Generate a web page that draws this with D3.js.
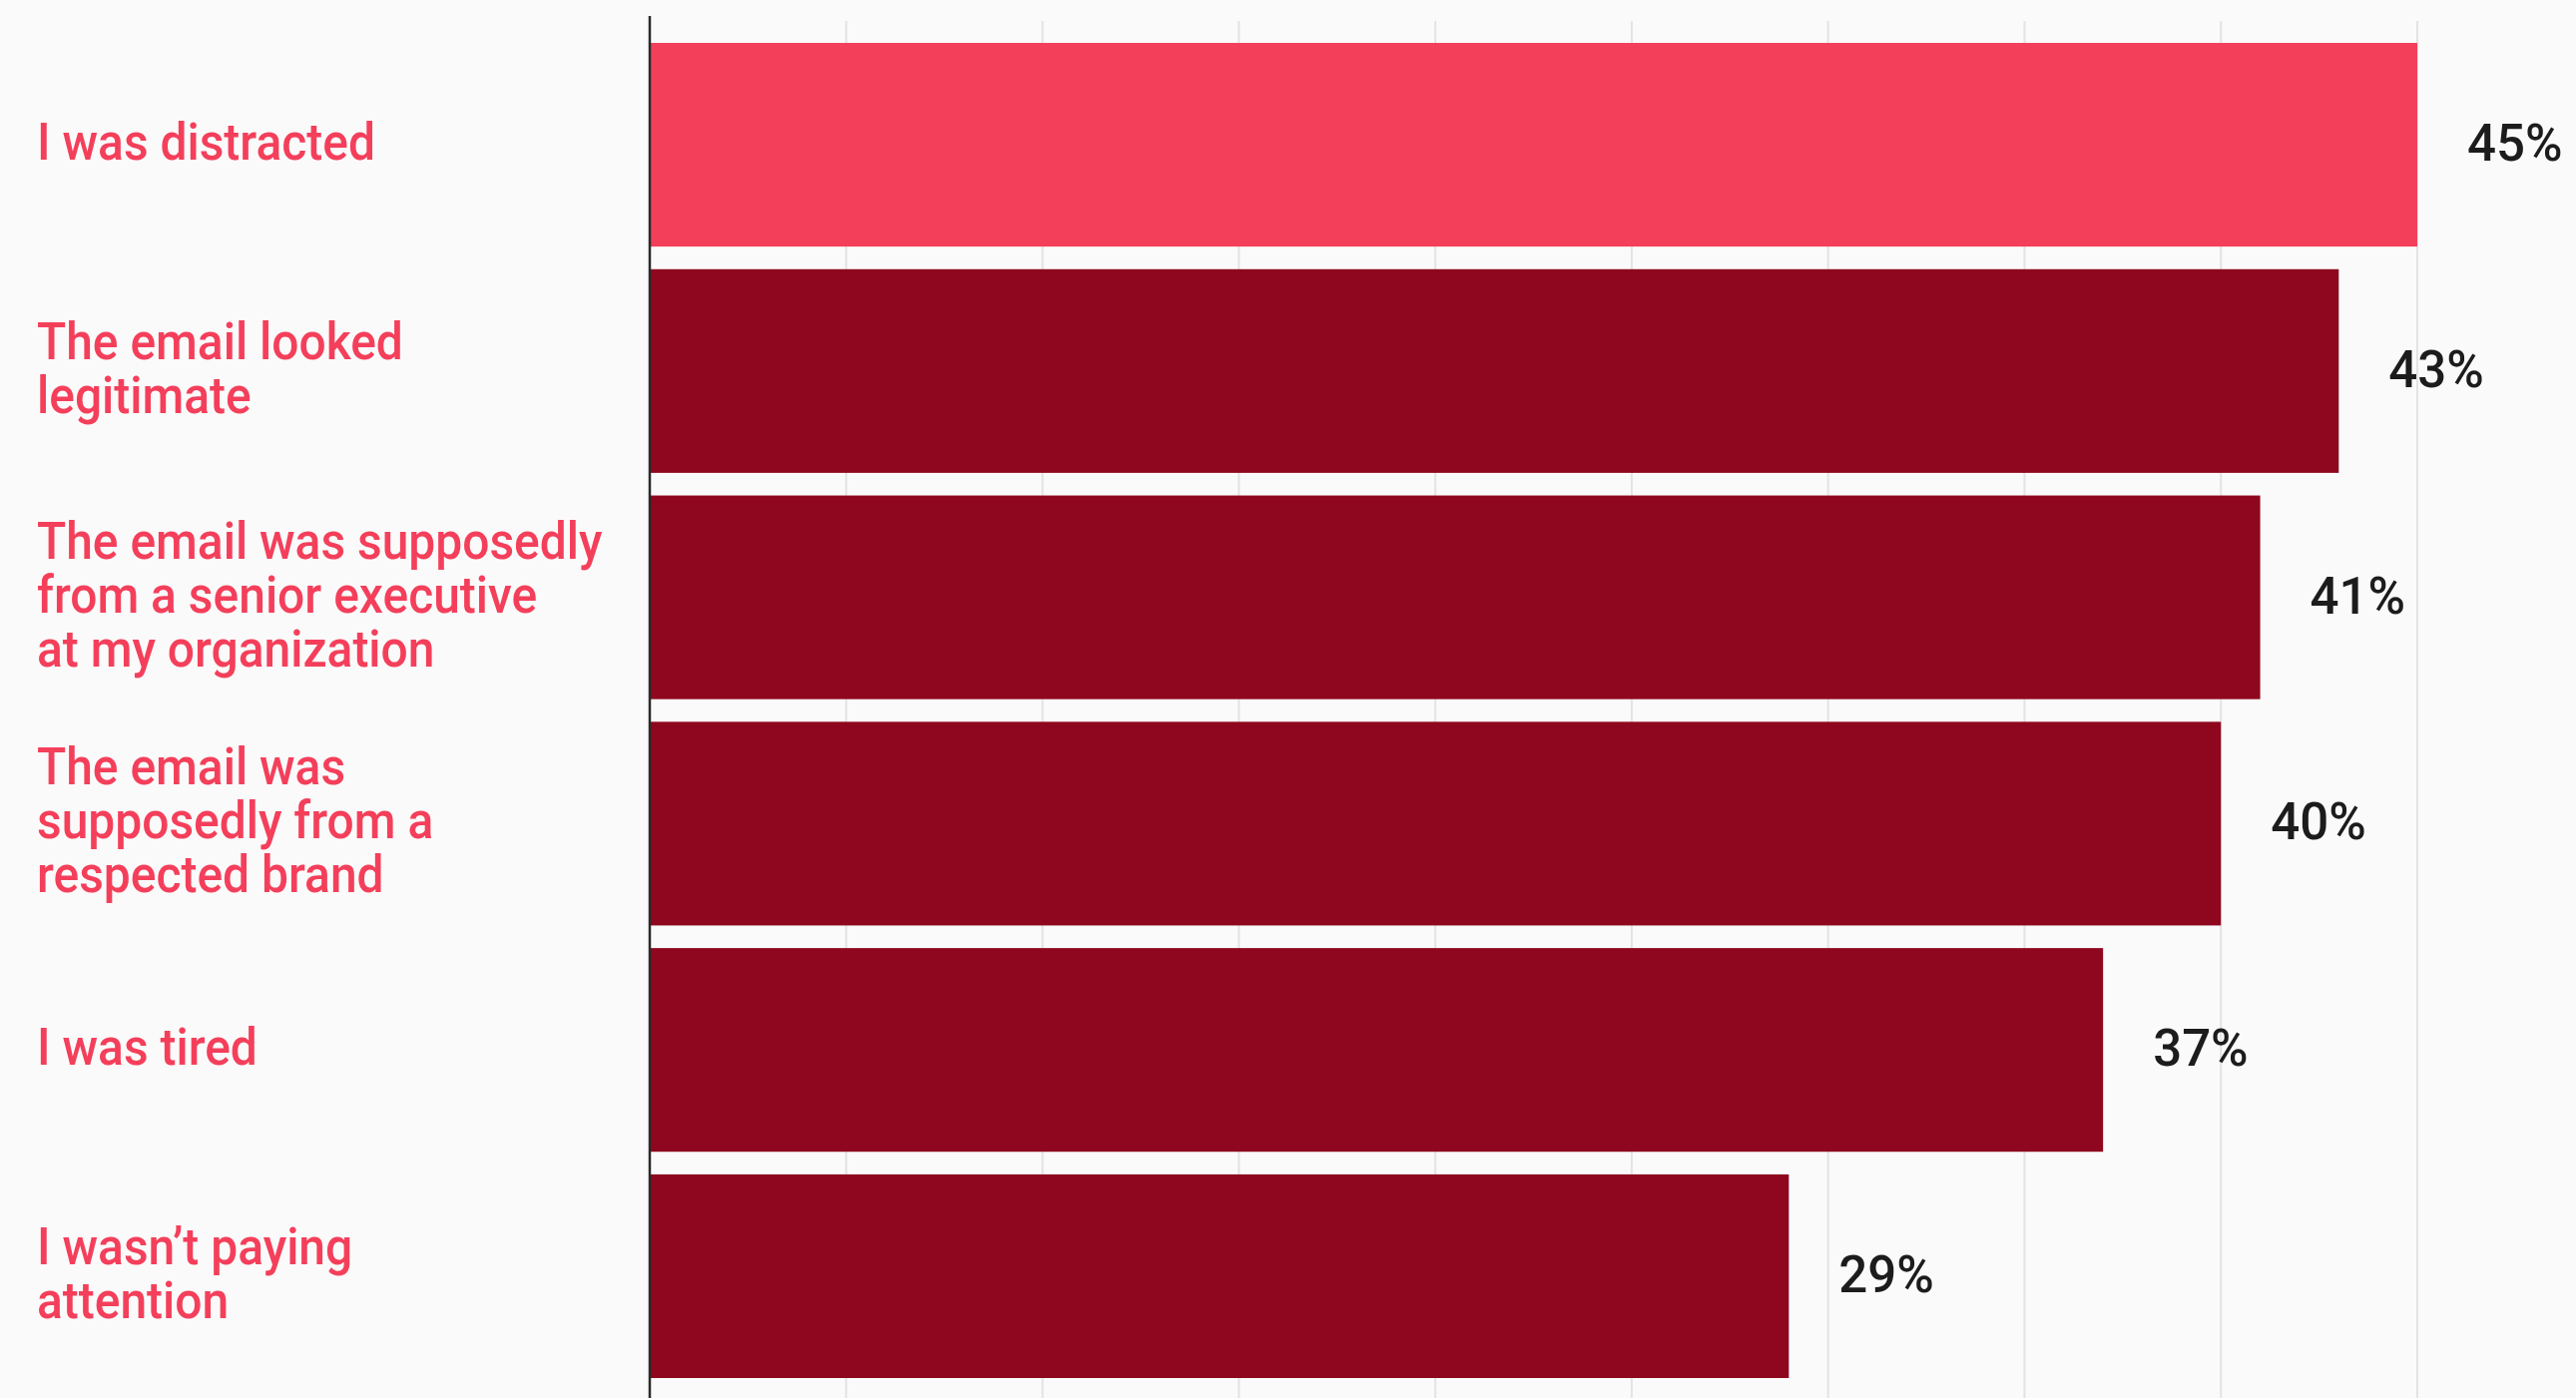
<!DOCTYPE html>
<html>
<head>
<meta charset="utf-8">
<script src="https://cdn.jsdelivr.net/npm/d3@7"></script>
<style>
  html, body { margin: 0; padding: 0; background: #fafafa; }
  svg { display: block; }
</style>
</head>
<body>
<svg id="chart" width="2581" height="1401"></svg>
<script>
const categories = [
  "I was distracted",
  "The email looked legitimate",
  "The email was supposedly from a senior executive at my organization",
  "The email was supposedly from a respected brand",
  "I was tired",
  "I wasn’t paying attention"
];
const labelLines = [
  ["I was distracted"],
  ["The email looked", "legitimate"],
  ["The email was supposedly", "from a senior executive", "at my organization"],
  ["The email was", "supposedly from a", "respected brand"],
  ["I was tired"],
  ["I wasn’t paying", "attention"]
];
const values = [45, 43, 41, 40, 37, 29];
const highlight = [true, false, false, false, false, false];
const xTicks = [5, 10, 15, 20, 25, 30, 35, 40, 45];

const W = 2581, H = 1401;
const svg = d3.select("#chart");
svg.append("rect").attr("width", W).attr("height", H).attr("fill", "#fafafa");

const x = d3.scaleLinear().domain([0, 45]).range([651, 2422]);
const y = d3.scaleBand().domain(categories).range([43, 1381]).paddingInner(0.1).paddingOuter(0);

// gridlines
svg.append("g")
  .selectAll("line")
  .data(xTicks)
  .join("line")
  .attr("x1", d => x(d)).attr("x2", d => x(d))
  .attr("y1", 21).attr("y2", H)
  .attr("stroke", "#e3e3e3")
  .attr("stroke-width", 2);

// bars
svg.append("g")
  .selectAll("rect")
  .data(categories)
  .join("rect")
  .attr("x", x(0))
  .attr("y", d => y(d))
  .attr("width", (d, i) => x(values[i]) - x(0))
  .attr("height", y.bandwidth())
  .attr("fill", (d, i) => highlight[i] ? "#f43f5b" : "#8e071e");

// axis line
svg.append("line")
  .attr("x1", x(0)).attr("x2", x(0))
  .attr("y1", 16).attr("y2", H)
  .attr("stroke", "#2a2a2a")
  .attr("stroke-width", 2.5);

// value labels
svg.append("g")
  .selectAll("text")
  .data(categories)
  .join("text")
  .attr("x", (d, i) => x(values[i]) + 50)
  .attr("y", d => y(d) + y.bandwidth() / 2 + 16)
  .attr("font-family", "Roboto, 'Noto Sans', sans-serif")
  .attr("font-weight", 500)
  .attr("font-size", 51)
  .attr("fill", "#1c1c1c")
  .text((d, i) => values[i] + "%");

// category labels
const lh = 54;
const lab = svg.append("g")
  .selectAll("text")
  .data(categories)
  .join("text")
  .attr("transform", (d, i) => {
    const n = labelLines[i].length;
    const base = y(d) + y.bandwidth() / 2 - (n - 1) / 2 * lh + 15;
    return `translate(37, ${base}) scale(0.94, 1)`;
  })
  .attr("font-family", "Roboto, 'Noto Sans', sans-serif")
  .attr("font-weight", 500)
  .attr("font-size", 51)
  .attr("fill", "#f43f5b");
lab.selectAll("tspan")
  .data((d, i) => labelLines[i])
  .join("tspan")
  .attr("x", 0)
  .attr("y", (d, j) => j * lh)
  .text(d => d);
</script>
</body>
</html>
